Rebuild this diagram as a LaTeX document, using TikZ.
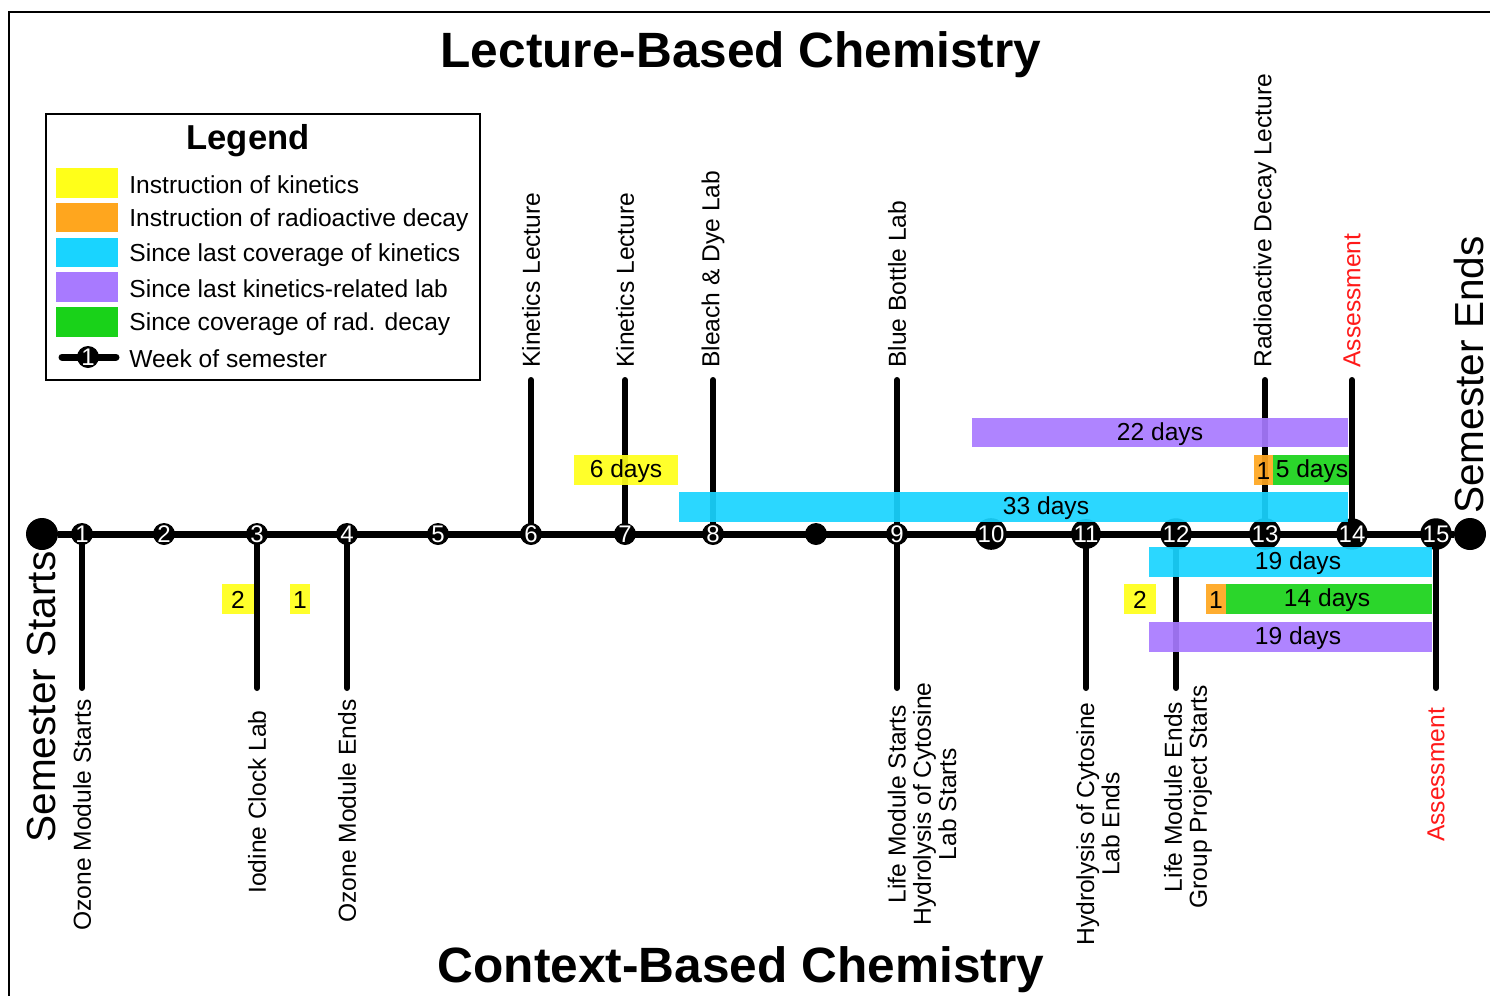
\documentclass[tikz,border=0pt]{standalone}
\usepackage{fontspec}
\setmainfont{Liberation Sans}
\usepackage{xcolor}
\usepackage{tikz}
\usetikzlibrary{positioning,calc}
\definecolor{kinyellow}{RGB}{255,255,25}
\definecolor{radorange}{RGB}{255,166,30}
\definecolor{kincyan}{RGB}{25,212,255}
\definecolor{labpurple}{RGB}{168,122,255}
\definecolor{radgreen}{RGB}{25,210,25}
\definecolor{assessred}{RGB}{255,25,25}

\begin{document}
\begin{tikzpicture}[x=0.5pt,y=-0.5pt,
    week/.style={circle,fill=black,inner sep=0pt,minimum size=11pt,text=white,font=\fontsize{12}{12}\selectfont},
    bigdot/.style={circle,fill=black,inner sep=0pt,minimum size=16pt},
    eventline/.style={line width=3pt,line cap=round},
    lbl/.style={font=\fontsize{12.3}{12.6}\selectfont,inner sep=0pt},
    uplbl/.style={lbl,rotate=90,anchor=west,inner xsep=6pt},
    downlbl/.style={lbl,rotate=90,align=center},
    bigtitle/.style={font=\bfseries\fontsize{24.8}{26}\selectfont,inner sep=0pt},
    semlbl/.style={font=\fontsize{20.3}{21}\selectfont,inner sep=0pt,rotate=90},
    barfill/.style={fill=#1,fill opacity=0.92}]
    \useasboundingbox (0,0) rectangle (1490,996);
    % frame
    \draw[line width=1pt] (9,1000) -- (9,12) -- (1495,12);

    % titles
    \node[bigtitle] (lecture) at (741,55) {Lecture-Based Chemistry};
    \node[bigtitle] (context) at (741,970) {Context-Based Chemistry};

    % legend
    \draw[line width=1pt] (46,114) rectangle (480,380);
    \node[font=\bfseries\fontsize{17.3}{18}\selectfont,inner sep=0pt] (legend) at (248,141) {Legend};
    \fill[kinyellow] (56,168) rectangle (118,198);
    \fill[radorange] (56,203) rectangle (118,232);
    \fill[kincyan] (56,238) rectangle (118,267);
    \fill[labpurple] (56,272) rectangle (118,302);
    \fill[radgreen] (56,307) rectangle (118,337);
    \node[lbl,anchor=west] (lk1) at (129,185) {Instruction of kinetics};
    \node[lbl,anchor=west] (lk2) at (129,220) {Instruction of radioactive decay};
    \node[lbl,anchor=west] (lk3) at (129,255) {Since last coverage of kinetics};
    \node[lbl,anchor=west] (lk4) at (129,289) {Since last kinetics-related lab};
    \node[lbl,anchor=west] (lk5) at (129,324) {Since coverage of rad. decay};
    \node[lbl,anchor=west] (lk6) at (129,359) {Week of semester};
    \draw[line width=3.5pt,line cap=round] (62,357) -- (116,357);
    \node[week] (lw) at (88,357) {1};

    % week positions
    \foreach \x [count=\i] in {82,164,257,347,438,531,625,713,897,991,1086,1176,1265,1352,1436}
        \coordinate (p\i) at (\x,534);
    \foreach \i in {6,7,8,9,13,14}
        \coordinate (u\i) at ($(p\i)+(0,-154)$);
    \foreach \i in {1,3,4,9,11,12,15}
        \coordinate (d\i) at ($(p\i)+(0,154)$);

    % event lines
    \foreach \i in {6,7,8,9,13,14}
        \draw[eventline] (p\i) -- (u\i);
    \foreach \i in {1,3,4,9,11,12,15}
        \draw[eventline] (p\i) -- (d\i);

    % timeline
    \node[bigdot] (sstart) at (42,534) {};
    \node[bigdot] (send) at (1470,534) {};
    \draw[line width=3.5pt] (sstart) -- (send);
    \foreach \i in {1,...,15}
        \node[week] (w\i) at (p\i) {\i};
    \node[week] (wmid) at (816,534) {};

    \node[semlbl] (semstart) at (42,697) {Semester Starts};
    \node[semlbl] (semend) at (1469,375) {Semester Ends};

    % bars above
    \fill[barfill=labpurple] (972,418) rectangle (1348,447);
    \fill[barfill=radorange] (1254,455) rectangle (1273,485);
    \fill[barfill=radgreen] (1273,455) rectangle (1349,485);
    \fill[barfill=kinyellow] (574,455) rectangle (678,485);
    \fill[barfill=kincyan] (679,492) rectangle (1348,522);
    % bars below
    \fill[barfill=kincyan] (1149,547) rectangle (1432,577);
    \fill[barfill=kinyellow] (1124,584) rectangle (1156,614);
    \fill[barfill=radorange] (1206,584) rectangle (1226,614);
    \fill[barfill=radgreen] (1226,584) rectangle (1432,614);
    \fill[barfill=labpurple] (1149,622) rectangle (1432,652);
    \fill[barfill=kinyellow] (222,584) rectangle (254,614);
    \fill[barfill=kinyellow] (290,584) rectangle (310,614);

    \node[lbl] (d22) at (1160,434) {22 days};
    \node[lbl] (r1a) at (1263.5,471) {1};
    \node[lbl] (d5) at (1312,471) {5 days};
    \node[lbl] (d6) at (626,471) {6 days};
    \node[lbl] (d33) at (1046,508) {33 days};
    \node[lbl] (d19a) at (1298,563) {19 days};
    \node[lbl] (k2b) at (1140,600) {2};
    \node[lbl] (r1b) at (1216,600) {1};
    \node[lbl] (d14) at (1327,600) {14 days};
    \node[lbl] (d19b) at (1298,638) {19 days};
    \node[lbl] (k2a) at (238,600) {2};
    \node[lbl] (k1a) at (300,600) {1};

    % event labels
    \node[uplbl] (e6) at (u6) {Kinetics Lecture};
    \node[uplbl] (e7) at (u7) {Kinetics Lecture};
    \node[uplbl] (e8) at (u8) {Bleach \& Dye Lab};
    \node[uplbl] (e9) at (u9) {Blue Bottle Lab};
    \node[uplbl] (e13) at (u13) {Radioactive Decay Lecture};
    \node[uplbl,text=assessred] (e14) at (u14) {Assessment};
    \node[downlbl] (f1) at (82,815) {Ozone Module Starts};
    \node[downlbl] (f3) at (257,802) {Iodine Clock Lab};
    \node[downlbl] (f4) at (347,811) {Ozone Module Ends};
    \node[downlbl] (f9) at (922,804) {Life Module Starts\\Hydrolysis of Cytosine\\Lab Starts};
    \node[downlbl] (f11) at (1098,824) {Hydrolysis of Cytosine\\Lab Ends};
    \node[downlbl] (f12) at (1188,797) {Life Module Ends\\Group Project Starts};
    \node[downlbl,text=assessred] (f15) at (1436,775) {Assessment};
\end{tikzpicture}
\end{document}
